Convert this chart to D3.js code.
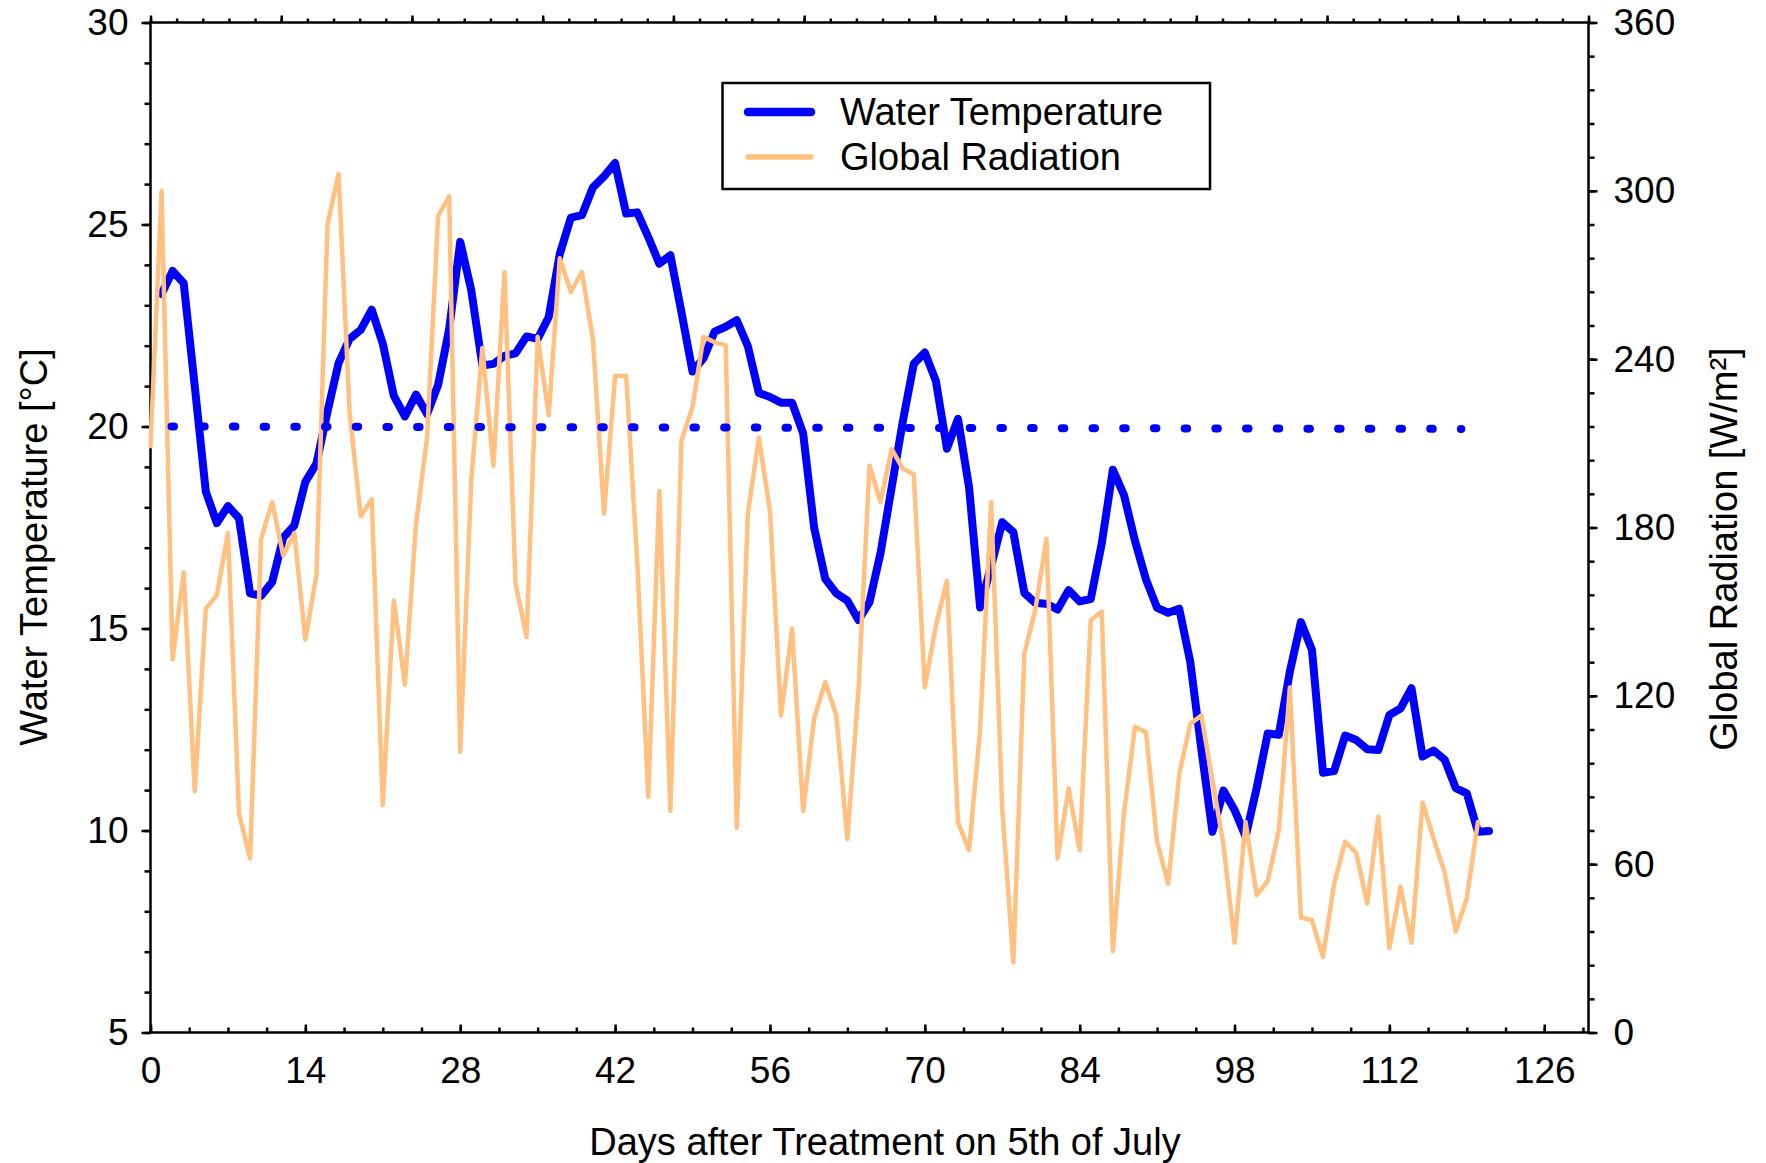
<!DOCTYPE html>
<html>
<head>
<meta charset="utf-8">
<script src="https://cdn.jsdelivr.net/npm/d3@7"></script>
<style>
  html, body { margin: 0; padding: 0; background: #fff; }
  svg { display: block; }
  text { font-family: "Liberation Sans", Arial, Helvetica, sans-serif; fill: #000; }
</style>
</head>
<body>
<svg id="chart" width="1766" height="1163"></svg>
<script>
// Daily water temperature (°C), days 1..121 after treatment
const tempDays = d3.range(1, 122);
const tempValues = [
  23.28, 23.85, 23.55, 21.0, 18.39, 17.61, 18.03, 17.73, 15.87, 15.81,
  16.15, 17.25, 17.55, 18.63, 19.08, 20.37, 21.57, 22.17, 22.39, 22.89,
  22.05, 20.76, 20.25, 20.79, 20.31, 21.03, 22.41, 24.57, 23.37, 21.51,
  21.55, 21.75, 21.81, 22.23, 22.17, 22.71, 24.27, 25.17, 25.23, 25.92,
  26.19, 26.52, 25.27, 25.30, 24.69, 24.03, 24.24, 22.83, 21.36, 21.69,
  22.35, 22.47, 22.63, 21.99, 20.83, 20.73, 20.59, 20.59, 19.83, 17.49,
  16.23, 15.87, 15.69, 15.21, 15.65, 16.87, 18.49, 20.11, 21.55, 21.83,
  21.13, 19.45, 20.19, 18.49, 15.52, 16.55, 17.63, 17.39, 15.88, 15.63,
  15.61, 15.47, 15.95, 15.67, 15.73, 17.11, 18.93, 18.31, 17.17, 16.21,
  15.51, 15.39, 15.49, 14.17, 12.01, 9.97, 10.99, 10.51, 9.85, 11.05,
  12.40, 12.37, 13.93, 15.16, 14.47, 11.43, 11.47, 12.35, 12.24, 12.01,
  11.99, 12.86, 13.02, 13.52, 11.83, 11.98, 11.75, 11.05, 10.92, 9.97,
  9.99
];

// Daily mean global radiation (W/m²), days 0..120
const radDays = d3.range(0, 121);
const radValues = [
  209, 300, 133, 164, 86, 151, 156, 178, 78, 62,
  176, 189, 170, 178, 140, 163, 288, 306, 221, 184,
  190, 81, 154, 124, 181, 212, 291, 298, 100, 197,
  244, 202, 271, 160, 141, 248, 220, 276, 264, 271,
  247, 185, 234, 234, 168, 84, 193, 79, 211, 223,
  248, 246, 245, 73, 185, 212, 186, 113, 144, 79,
  112, 125, 113, 69, 122, 202, 189, 208, 201, 199,
  123, 145, 161, 75, 65, 108, 189, 80, 25, 135,
  151, 176, 62, 87, 65, 147, 150, 29, 78, 109,
  107, 68, 53, 92, 110, 113, 90, 67, 32, 75,
  49, 54, 72, 123, 41, 40, 27, 53, 68, 64,
  46, 77, 30, 52, 32, 82, 69, 57, 36, 48,
  75
];

// 20 °C reference level (dotted)
const refDays = [1.9, 118.5];
const refTemp = [20.0, 19.94];

// Axis ticks and labels
const xMajorTicks = d3.range(0, 127, 14);
const tempMajorTicks = [5, 10, 15, 20, 25, 30];
const radMajorTicks = [0, 60, 120, 180, 240, 300, 360];

const seriesNames = ["Water Temperature", "Global Radiation"];
const xTitle = "Days after Treatment on 5th of July";
const yLeftTitle = "Water Temperature [°C]";
const yRightTitle = "Global Radiation [W/m²]";

// ---------- layout ----------
const plot = { left: 150.5, right: 1588.5, top: 22.5, bottom: 1032.5 };
const blue = "#0000ff";
const orange = "#ffc080";
const tickFont = 37;
const titleFont = 38;

const svg = d3.select("#chart");

const x = d3.scaleLinear().domain([0, 130]).range([plot.left, plot.right]);
const yT = d3.scaleLinear().domain([5, 30]).range([plot.bottom, plot.top]);
const yR = d3.scaleLinear().domain([0, 360]).range([plot.bottom, plot.top]);
const xTop = d3.scaleLinear().domain([0, 11]).range([plot.left, plot.right]);

function styleAxis(g, withText) {
  g.select(".domain").remove();
  g.selectAll("line").attr("stroke", "#000").attr("stroke-width", 2.5);
  if (withText) {
    g.selectAll("text").style("font-size", tickFont + "px").attr("fill", "#000");
  } else {
    g.selectAll("text").remove();
  }
}

// left axis (temperature)
svg.append("g").attr("transform", `translate(${plot.left},0)`)
  .call(d3.axisLeft(yT).tickValues(d3.range(5, 31, 1)).tickSize(6).tickFormat(""))
  .call(g => styleAxis(g, false));
svg.append("g").attr("transform", `translate(${plot.left},0)`)
  .call(d3.axisLeft(yT).tickValues(tempMajorTicks).tickSize(9).tickPadding(13).tickFormat(d3.format("d")))
  .call(g => styleAxis(g, true));

// right axis (radiation)
svg.append("g").attr("transform", `translate(${plot.right},0)`)
  .call(d3.axisRight(yR).tickValues(d3.range(0, 361, 12)).tickSize(6).tickFormat(""))
  .call(g => styleAxis(g, false));
svg.append("g").attr("transform", `translate(${plot.right},0)`)
  .call(d3.axisRight(yR).tickValues(radMajorTicks).tickSize(9).tickPadding(16).tickFormat(d3.format("d")))
  .call(g => styleAxis(g, true));

// bottom axis (days), ticks pointing inward
svg.append("g").attr("transform", `translate(0,${plot.bottom})`)
  .call(d3.axisBottom(x).tickValues(d3.range(0, 130, 3.5)).tickSize(-5).tickFormat(""))
  .call(g => styleAxis(g, false));
svg.append("g").attr("transform", `translate(0,${plot.bottom})`)
  .call(d3.axisBottom(x).tickValues(xMajorTicks).tickSize(-8).tickPadding(24).tickFormat(d3.format("d")))
  .call(g => styleAxis(g, true));

// top border ticks
svg.append("g").attr("transform", `translate(0,${plot.top})`)
  .call(d3.axisTop(xTop).tickValues(d3.range(0, 11.01, 0.2)).tickSize(4).tickFormat(""))
  .call(g => styleAxis(g, false));
svg.append("g").attr("transform", `translate(0,${plot.top})`)
  .call(d3.axisTop(xTop).tickValues(d3.range(0, 12, 1)).tickSize(7).tickFormat(""))
  .call(g => styleAxis(g, false));

// plot frame
svg.append("rect")
  .attr("x", plot.left).attr("y", plot.top)
  .attr("width", plot.right - plot.left).attr("height", plot.bottom - plot.top)
  .attr("fill", "none").attr("stroke", "#000").attr("stroke-width", 2.5);

// ---------- series ----------
const tempData = tempDays.map((d, i) => [d, tempValues[i]]);
const radData = radDays.map((d, i) => [d, radValues[i]]);
const refData = refDays.map((d, i) => [d, refTemp[i]]);

const tempLine = d3.line().x(d => x(d[0])).y(d => yT(d[1]));
const radLine = d3.line().x(d => x(d[0])).y(d => yR(d[1]));

svg.append("path").datum(tempData)
  .attr("d", tempLine)
  .attr("fill", "none").attr("stroke", blue).attr("stroke-width", 8)
  .attr("stroke-linejoin", "round").attr("stroke-linecap", "round");

svg.append("path").datum(radData)
  .attr("d", radLine)
  .attr("fill", "none").attr("stroke", orange).attr("stroke-width", 4.5)
  .attr("stroke-linejoin", "round").attr("stroke-linecap", "round");

svg.append("path").datum(refData)
  .attr("d", tempLine)
  .attr("fill", "none").attr("stroke", blue).attr("stroke-width", 8)
  .attr("stroke-linecap", "round").attr("stroke-dasharray", "2.5 28.2");

// ---------- legend ----------
const legend = svg.append("g");
legend.append("rect")
  .attr("x", 722.5).attr("y", 83).attr("width", 487.5).attr("height", 106)
  .attr("fill", "#fff").attr("stroke", "#000").attr("stroke-width", 2.5);
const legendItems = [
  { name: seriesNames[0], color: blue, width: 8.5, y: 112 },
  { name: seriesNames[1], color: orange, width: 5.5, y: 157 }
];
legendItems.forEach(it => {
  legend.append("line")
    .attr("x1", 748).attr("x2", 811).attr("y1", it.y).attr("y2", it.y)
    .attr("stroke", it.color).attr("stroke-width", it.width).attr("stroke-linecap", "round");
  legend.append("text")
    .attr("x", 840).attr("y", it.y + 13)
    .style("font-size", titleFont + "px")
    .text(it.name);
});

// ---------- titles ----------
svg.append("text")
  .attr("x", 885).attr("y", 1155)
  .attr("text-anchor", "middle")
  .style("font-size", titleFont + "px")
  .text(xTitle);

svg.append("text")
  .attr("transform", "translate(47,547) rotate(-90)")
  .attr("text-anchor", "middle")
  .style("font-size", titleFont + "px")
  .text(yLeftTitle);

svg.append("text")
  .attr("transform", "translate(1737,549) rotate(-90)")
  .attr("text-anchor", "middle")
  .style("font-size", titleFont + "px")
  .text(yRightTitle);
</script>
</body>
</html>
